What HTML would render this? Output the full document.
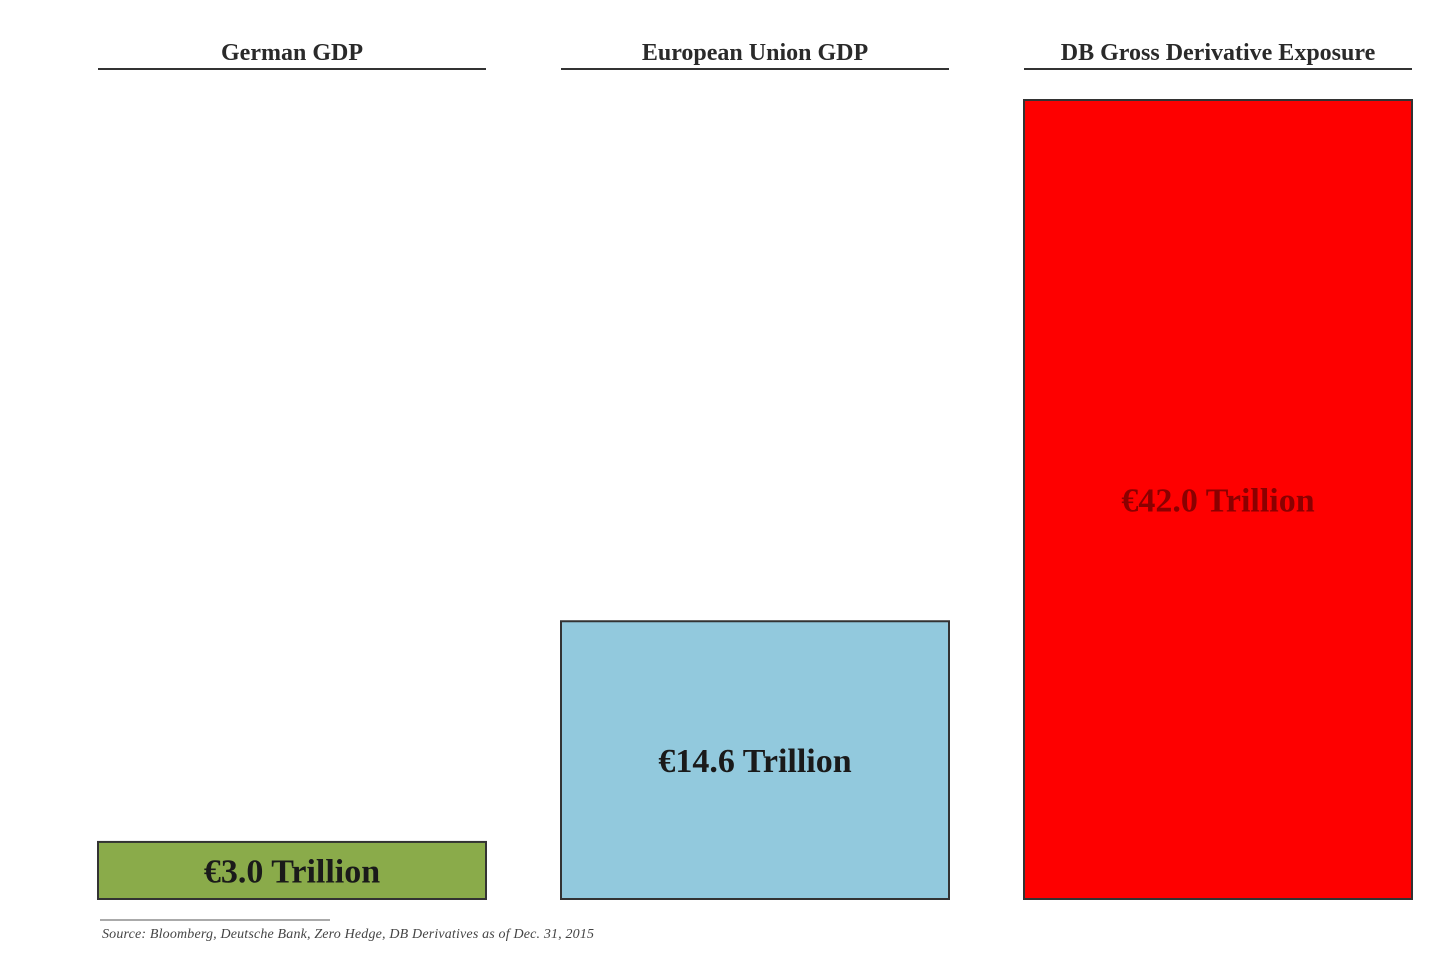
<!DOCTYPE html>
<html><head><meta charset="utf-8"><style>
html,body{margin:0;padding:0;background:#fff;width:1456px;height:971px;overflow:hidden}
svg text{font-family:"Liberation Serif",serif}
</style></head><body>
<svg id="chart" width="1456" height="971" xmlns="http://www.w3.org/2000/svg">
<g id="bars"></g>
<line x1="100" y1="920" x2="330" y2="920" stroke="#555" stroke-width="1"/>
<text x="102" y="938" font-size="14" font-style="italic" fill="#444" textLength="492">Source: Bloomberg, Deutsche Bank, Zero Hedge, DB Derivatives as of  Dec. 31, 2015</text>
</svg>
<script>
const categories=["German GDP","European Union GDP","DB Gross Derivative Exposure"];
const values=[3.0,14.6,42.0];
const valueLabels=["€3.0 Trillion","€14.6 Trillion","€42.0 Trillion"];
const colors=["#8aab4a","#92c9dd","#fe0000"];
const baseY=899, topY=100, maxV=42.0;
function yScale(v){return baseY-(v/maxV)*(baseY-topY);}
function xLeft(i){return 98+i*463;}
const barW=388;
const ns="http://www.w3.org/2000/svg";
const g=document.getElementById('bars');
categories.forEach((c,i)=>{
  const x=xLeft(i), y=yScale(values[i]);
  const t=document.createElementNS(ns,'text');
  
  
  t.setAttribute('x',x+barW/2);t.setAttribute('y',60);
  t.setAttribute('text-anchor','middle');t.setAttribute('font-size','24');t.setAttribute('font-weight','bold');t.setAttribute('fill','#2a2a2a');
  t.textContent=c;g.appendChild(t);
  const l=document.createElementNS(ns,'line');
  
  
  l.setAttribute('x1',x);l.setAttribute('x2',x+barW);l.setAttribute('y1',69);l.setAttribute('y2',69);
  l.setAttribute('stroke','#333');l.setAttribute('stroke-width','2');g.appendChild(l);
  const r=document.createElementNS(ns,'rect');
  
  
  r.setAttribute('x',x);r.setAttribute('y',y);r.setAttribute('width',barW);r.setAttribute('height',baseY-y);
  r.setAttribute('fill',colors[i]);r.setAttribute('stroke','#333');r.setAttribute('stroke-width','2');g.appendChild(r);
  const v=document.createElementNS(ns,'text');
  
  
  v.setAttribute('x',x+barW/2);v.setAttribute('y',(y+baseY)/2+12);
  v.setAttribute('text-anchor','middle');v.setAttribute('font-size','34');v.setAttribute('font-weight','bold');
  v.setAttribute('fill',i==2?'#8a0000':'#1a1a1a');
  v.textContent=valueLabels[i];g.appendChild(v);
});
</script>
</body></html>
